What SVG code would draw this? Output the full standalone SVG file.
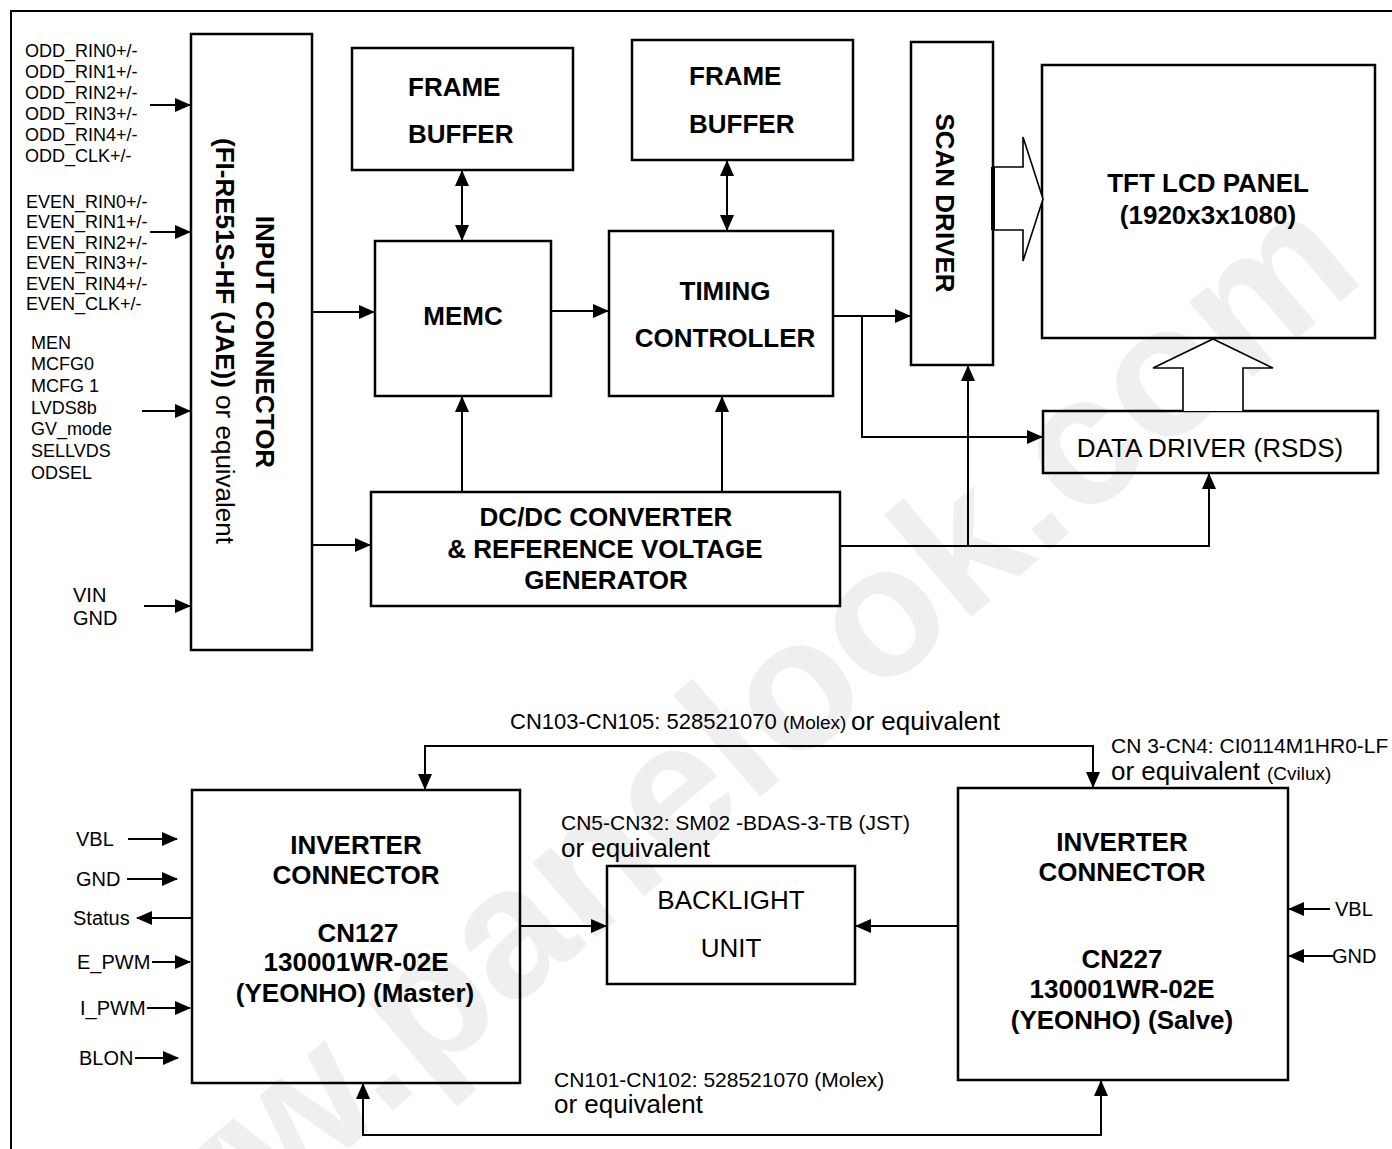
<svg xmlns="http://www.w3.org/2000/svg" width="1392" height="1149" viewBox="0 0 1392 1149">
<defs>
<style>
text{font-family:"Liberation Sans",Arial,Helvetica,sans-serif;fill:#000}
.b{font-weight:bold;font-size:26px}
.r{font-size:26px}
.s{font-size:18px}
.m{font-size:20px}
.c{font-size:21px}
.box{fill:none;stroke:#000;stroke-width:2.5}
.ln{fill:none;stroke:#000;stroke-width:2}
.a{marker-end:url(#ah)}
.aa{marker-end:url(#ah);marker-start:url(#ah)}
.hol{fill:#fff;stroke:#000;stroke-width:1.6}
</style>
<marker id="ah" viewBox="0 0 16 14" refX="15" refY="7" markerWidth="16" markerHeight="14" orient="auto-start-reverse" markerUnits="userSpaceOnUse"><path d="M0,0 L16,7 L0,14 z" fill="#000"/></marker>
</defs>
<rect width="1392" height="1149" fill="#fff"/>
<text transform="translate(60,1395) rotate(-40.5)" style="font-size:185px;font-weight:bold;fill:#efefef">www.panelook.com</text>
<path d="M11,1149 V11 H1392" fill="none" stroke="#000" stroke-width="2"/>

<g id="input-labels">
<text class="s" x="25" y="56.5">ODD_RIN0+/-</text>
<text class="s" x="25" y="77.5">ODD_RIN1+/-</text>
<text class="s" x="25" y="98.5">ODD_RIN2+/-</text>
<text class="s" x="25" y="119.5">ODD_RIN3+/-</text>
<text class="s" x="25" y="140.5">ODD_RIN4+/-</text>
<text class="s" x="25" y="161.5">ODD_CLK+/-</text>
<text class="s" x="26" y="207.5">EVEN_RIN0+/-</text>
<text class="s" x="26" y="228">EVEN_RIN1+/-</text>
<text class="s" x="26" y="248.5">EVEN_RIN2+/-</text>
<text class="s" x="26" y="269">EVEN_RIN3+/-</text>
<text class="s" x="26" y="289.5">EVEN_RIN4+/-</text>
<text class="s" x="26" y="310">EVEN_CLK+/-</text>
<text class="s" x="31" y="348.5">MEN</text>
<text class="s" x="31" y="370">MCFG0</text>
<text class="s" x="31" y="392">MCFG 1</text>
<text class="s" x="31" y="413.5">LVDS8b</text>
<text class="s" x="31" y="435">GV_mode</text>
<text class="s" x="31" y="457">SELLVDS</text>
<text class="s" x="31" y="478.5">ODSEL</text>
<text class="m" x="73" y="602">VIN</text>
<text class="m" x="73" y="625">GND</text>
</g>

<g id="input-connector">
<rect class="box" x="191" y="34" width="121" height="616"/>
<text class="b" transform="translate(256,342) rotate(90)" text-anchor="middle">INPUT CONNECTOR</text>
<text transform="translate(216,341) rotate(90)" text-anchor="middle" style="font-size:26px"><tspan font-weight="bold">(FI-RE51S-HF (JAE))</tspan> or equivalent</text>
</g>

<g id="frame-buffer-1">
<rect class="box" x="352" y="48" width="221" height="122"/>
<text class="b" x="408" y="96">FRAME</text>
<text class="b" x="408" y="143">BUFFER</text>
</g>

<g id="frame-buffer-2">
<rect class="box" x="632" y="40" width="221" height="120"/>
<text class="b" x="689" y="85">FRAME</text>
<text class="b" x="689" y="133">BUFFER</text>
</g>

<g id="memc">
<rect class="box" x="375" y="241" width="176" height="155"/>
<text class="b" x="463" y="325" text-anchor="middle">MEMC</text>
</g>

<g id="timing-controller">
<rect class="box" x="609" y="231" width="224" height="165"/>
<text class="b" x="725" y="300" text-anchor="middle">TIMING</text>
<text class="b" x="725" y="347" text-anchor="middle">CONTROLLER</text>
</g>

<g id="scan-driver">
<rect class="box" x="911" y="42" width="82" height="323"/>
<text class="b" transform="translate(936,203) rotate(90)" text-anchor="middle">SCAN DRIVER</text>
</g>

<g id="tft-panel">
<rect class="box" x="1042" y="65" width="333" height="273"/>
<text class="b" x="1208" y="192" text-anchor="middle">TFT LCD PANEL</text>
<text class="b" x="1208" y="224" text-anchor="middle">(1920x3x1080)</text>
</g>

<g id="data-driver">
<rect class="box" x="1043" y="411" width="335" height="62"/>
<text class="r" x="1210" y="457" text-anchor="middle">DATA DRIVER (RSDS)</text>
</g>

<g id="dcdc">
<rect class="box" x="371" y="492" width="469" height="114"/>
<text class="b" x="606" y="526" text-anchor="middle">DC/DC CONVERTER</text>
<text class="b" x="605" y="558" text-anchor="middle">&amp; REFERENCE VOLTAGE</text>
<text class="b" x="606" y="589" text-anchor="middle">GENERATOR</text>
</g>

<g id="inverter-master">
<rect class="box" x="192" y="790" width="328" height="293"/>
<text class="b" x="356" y="854" text-anchor="middle">INVERTER</text>
<text class="b" x="356" y="884" text-anchor="middle">CONNECTOR</text>
<text class="b" x="358" y="942" text-anchor="middle">CN127</text>
<text class="b" x="356" y="971" text-anchor="middle">130001WR-02E</text>
<text class="b" x="355" y="1002" text-anchor="middle">(YEONHO) (Master)</text>
</g>

<g id="backlight">
<rect class="box" x="607" y="866" width="248" height="118"/>
<text class="r" x="731" y="909" text-anchor="middle">BACKLIGHT</text>
<text class="r" x="731" y="957" text-anchor="middle">UNIT</text>
</g>

<g id="inverter-slave">
<rect class="box" x="958" y="788" width="330" height="292"/>
<text class="b" x="1122" y="851" text-anchor="middle">INVERTER</text>
<text class="b" x="1122" y="881" text-anchor="middle">CONNECTOR</text>
<text class="b" x="1122" y="968" text-anchor="middle">CN227</text>
<text class="b" x="1122" y="998" text-anchor="middle">130001WR-02E</text>
<text class="b" x="1122" y="1029" text-anchor="middle">(YEONHO) (Salve)</text>
</g>

<g id="inverter-labels">
<text class="m" x="76" y="846">VBL</text>
<text class="m" x="76" y="886">GND</text>
<text class="m" x="73" y="925">Status</text>
<text class="m" x="77" y="969">E_PWM</text>
<text class="m" x="80" y="1015">I_PWM</text>
<text class="m" x="79" y="1065">BLON</text>
<text class="m" x="1335" y="916">VBL</text>
<text class="m" x="1332" y="963">GND</text>
<text class="c" x="510" y="729" style="font-size:22px">CN103-CN105: 528521070</text>
<text x="783" y="729" style="font-size:19px">(Molex)</text>
<text class="r" x="851" y="730">or equivalent</text>
<text class="c" x="1111" y="753">CN 3-CN4: CI0114M1HR0-LF</text>
<text class="r" x="1111" y="780">or equivalent</text>
<text x="1267" y="780" style="font-size:19px">(Cvilux)</text>
<text class="c" x="561" y="830">CN5-CN32: SM02 -BDAS-3-TB (JST)</text>
<text class="r" x="561" y="857">or equivalent</text>
<text class="c" x="554" y="1087">CN101-CN102: 528521070 (Molex)</text>
<text class="r" x="554" y="1113">or equivalent</text>
</g>

<g id="connectors">
<path class="ln a" d="M150,105 H190"/>
<path class="ln a" d="M150,232 H190"/>
<path class="ln a" d="M142,411 H190"/>
<path class="ln a" d="M144,606 H190"/>
<path class="ln a" d="M312,312 H374"/>
<path class="ln a" d="M551,311 H608"/>
<path class="ln aa" d="M462,171 V240"/>
<path class="ln aa" d="M727,161 V230"/>
<path class="ln a" d="M833,316 H910"/>
<path class="ln a" d="M862,316 V437 H1042"/>
<path class="ln a" d="M312,545 H370"/>
<path class="ln a" d="M462,492 V397"/>
<path class="ln a" d="M722,492 V397"/>
<path class="ln a" d="M840,546 H1209 V474"/>
<path class="ln a" d="M968,546 V366"/>
<polygon class="hol" points="993,167 1023,167 1023,137 1043,199 1023,261 1023,230 993,230"/>
<path d="M993,167 V230" stroke="#000" stroke-width="4"/>
<polyline class="hol" points="1183,411 1183,368 1153,368 1213,339 1273,368 1243,368 1243,411"/>
<path class="ln a" d="M128,839 H177"/>
<path class="ln a" d="M127,879 H177"/>
<path class="ln a" d="M192,918 H137"/>
<path class="ln a" d="M152,962 H190"/>
<path class="ln a" d="M147,1008 H190"/>
<path class="ln a" d="M135,1058 H178"/>
<path class="ln a" d="M1330,909 H1289"/>
<path class="ln a" d="M1333,956 H1289"/>
<path class="ln a" d="M520,926 H606"/>
<path class="ln a" d="M958,926 H856"/>
<path class="ln aa" d="M425,789 V746 H1093 V787"/>
<path class="ln aa" d="M363,1084 V1135 H1101 V1081"/>
</g>
</svg>
